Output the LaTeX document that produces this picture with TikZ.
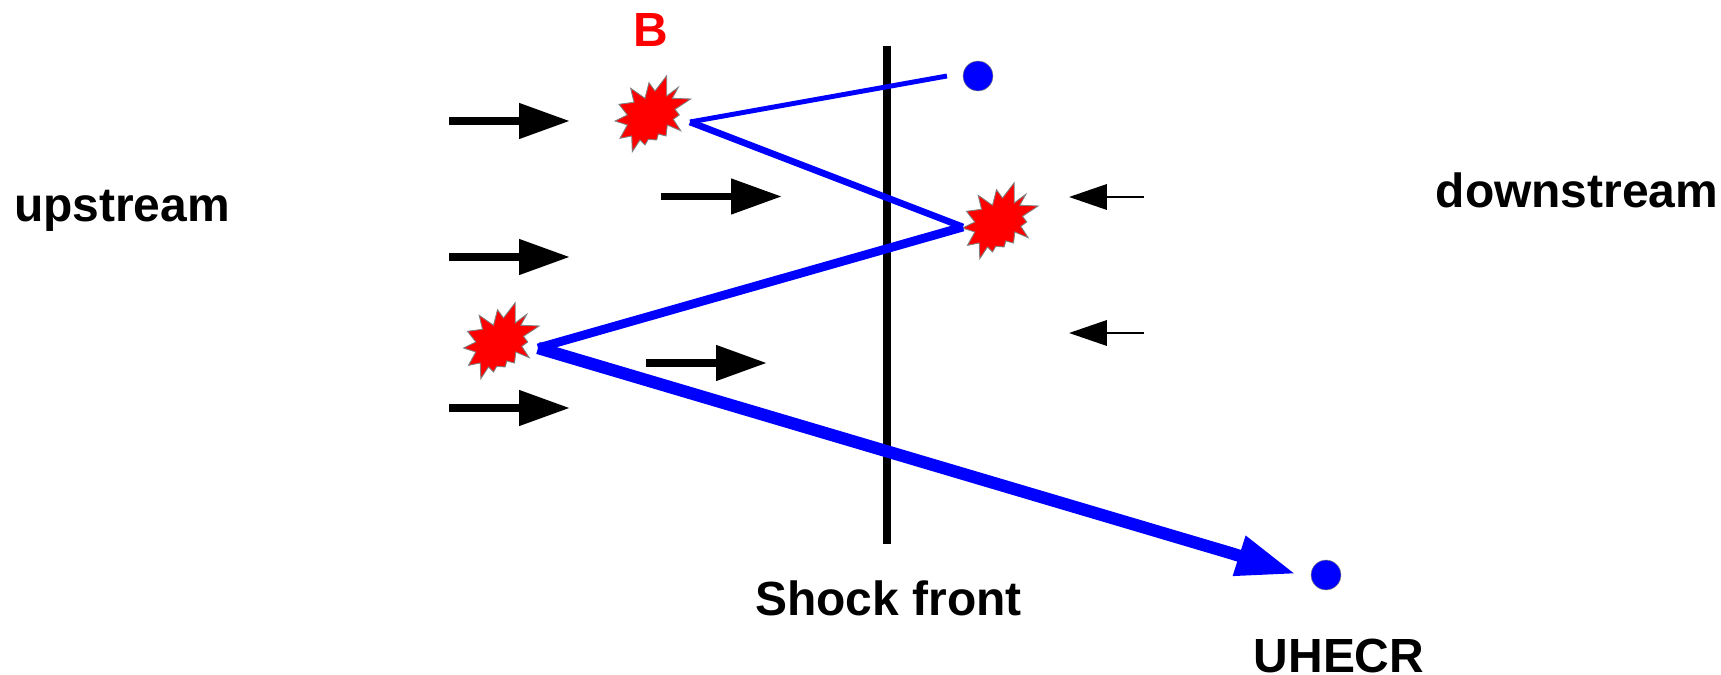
\documentclass[tikz,border=0pt]{standalone}
\usepackage{fontspec}
\setmainfont{Liberation Sans}
\usetikzlibrary{arrows.meta}
\definecolor{pureblue}{rgb}{0,0,1}
\tikzset{
  bigarrow/.style={line width=4.5pt, -{Triangle[length=29pt, width=19.3pt]}},
  smallarrow/.style={line width=1.2pt, -{Triangle[length=21.5pt, width=14.4pt]}},
  label/.style={anchor=base, inner sep=0pt, font=\fontsize{27.3}{32}\selectfont\bfseries},
  dot/.style={circle, fill=pureblue, draw=gray, line width=0.3pt, minimum size=17pt, inner sep=0pt},
  burst/.pic={
    \fill[red, draw=gray, line width=0.5pt] (14.7,-37.3) -- (3,-22) -- (-3,-30.3) -- (-7,-14.7) -- (-21.3,-24.7)
      -- (-18,-10.7) -- (-33,-8.7) -- (-24.7,2) -- (-37,8) -- (-24.7,12) -- (-32,25.3) -- (-20.3,23)
      -- (-19.7,38.7) -- (-12,27) -- (-7,32) -- (-3.7,26.3) -- (4.7,27) -- (6.3,21) -- (14,23) -- (15.3,12)
      -- (28.7,17.7) -- (21.3,6.3) -- (27.3,2) -- (23,-3.7) -- (38.7,-14) -- (20.3,-14.7) -- (26.3,-25.7)
      -- (14.7,-17) -- cycle;
  }
}

\begin{document}
\begin{tikzpicture}[x=0.02cm, y=-0.02cm]
  \useasboundingbox (0,0) rectangle (1721,675);

  % Draw the shock front
  \coordinate (fronttop) at (887,46);
  \coordinate (frontbot) at (887,544);
  \draw[line width=4.4pt] (fronttop) -- (frontbot);

  % Flow arrows, upstream side
  \foreach \xs/\xe/\y [count=\i] in {449/570/121, 661/782/196.5, 449/570/257, 646/767/363, 449/570/408} {
    \coordinate (up\i s) at (\xs,\y);
    \coordinate (up\i e) at (\xe,\y);
    \draw[bigarrow] (up\i s) -- (up\i e);
  }

  % Flow arrows, downstream side
  \foreach \y [count=\i] in {197,333} {
    \coordinate (down\i s) at (1144,\y);
    \coordinate (down\i e) at (1069,\y);
    \draw[smallarrow] (down\i s) -- (down\i e);
  }

  % Magnetic scattering centres
  \foreach \x/\y in {652/113, 999.5/220, 500.5/340} {
    \pic at (\x,\y) {burst};
  }

  % Particle path, getting thicker at each crossing
  \node[dot] (start) at (978,76) {};
  \node[dot] (end) at (1326,575) {};
  \coordinate (pathstart) at (947,76);
  \coordinate (kicka) at (690,122);
  \coordinate (kickb) at (963,227);
  \coordinate (kickc) at (538,348);
  \coordinate (headbase) at (1232,553.5);
  \coordinate (pathend) at (1296,574);
  \draw[pureblue, line width=2.8pt] (pathstart) -- (kicka);
  \draw[pureblue, line width=3.8pt] (kicka) -- (kickb);
  \draw[pureblue, line width=5pt] (kickb) -- (kickc);
  \draw[pureblue, line width=7pt, -{Triangle[length=34pt, width=22pt]}] (kickc) -- (headbase) -- (pathend);

  % Labels
  \node[label, text=red] (field) at (651,47) {B};
  \node[label] (upstream) at (122,222) {upstream};
  \node[label] (downstream) at (1577,208) {downstream};
  \node[label] (front) at (888.5,615) {Shock front};
  \node[label] (uhecr) at (1339,672) {UHECR};

\end{tikzpicture}
\end{document}
